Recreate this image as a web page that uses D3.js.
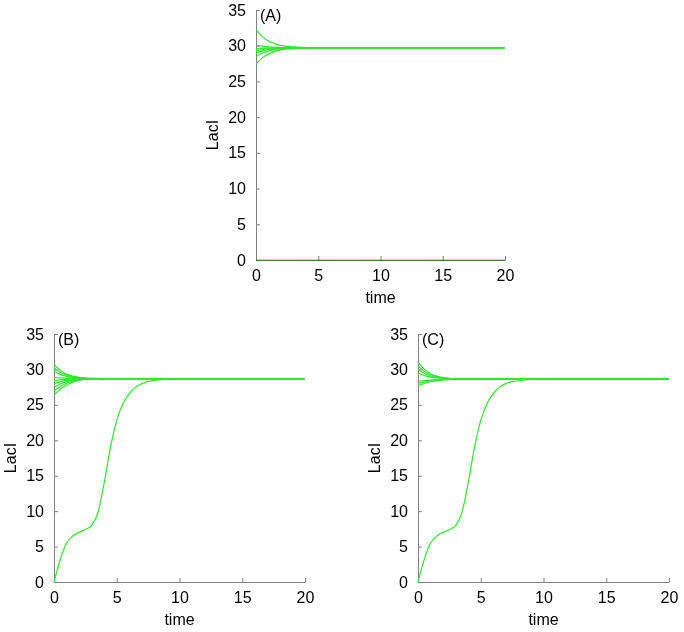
<!DOCTYPE html>
<html>
<head>
<meta charset="utf-8">
<script src="https://cdn.jsdelivr.net/npm/d3@7"></script>
<style>
  body { margin: 0; background: #fff; }
  svg text { font-family: "Liberation Sans", Arial, sans-serif; fill: #000; }
  .axis path, .axis line { stroke: #808080; }
</style>
</head>
<body>
<div id="chart"></div>
<script>

// axis ticks
var xTicks = [0, 5, 10, 15, 20];
var yTicks = [0, 5, 10, 15, 20, 25, 30, 35];

// panel (A): time points and trajectories
var timeA = [0, 0.5, 1, 1.5, 2, 3, 4, 5, 20];
var seriesA = [
    [32.3, 31.3, 30.65, 30.3, 30.05, 29.83, 29.75, 29.72, 29.7],
    [30.1, 29.95, 29.85, 29.78, 29.74, 29.71, 29.7, 29.7, 29.7],
    [29.6, 29.65, 29.67, 29.69, 29.7, 29.7, 29.7, 29.7, 29.7],
    [29.3, 29.45, 29.55, 29.62, 29.66, 29.69, 29.7, 29.7, 29.7],
    [29.0, 29.28, 29.45, 29.56, 29.62, 29.68, 29.7, 29.7, 29.7],
    [28.5, 28.95, 29.25, 29.44, 29.56, 29.66, 29.69, 29.7, 29.7],
    [27.4, 28.3, 28.85, 29.2, 29.42, 29.6, 29.67, 29.69, 29.7]
];
// trajectory that stays at the zero state
var zeroA = [0, 0, 0, 0, 0, 0, 0, 0, 0];

// panel (B)
var timeB = [0, 0.5, 1, 1.5, 2, 2.5, 3, 4, 5, 20];
var seriesB = [
    [30.7, 29.9, 29.35, 29.05, 28.88, 28.78, 28.74, 28.71, 28.7, 28.7],
    [30.2, 29.6, 29.2, 28.97, 28.84, 28.77, 28.73, 28.71, 28.7, 28.7],
    [29.7, 29.3, 29.02, 28.87, 28.79, 28.75, 28.72, 28.7, 28.7, 28.7],
    [28.9, 28.8, 28.75, 28.72, 28.71, 28.7, 28.7, 28.7, 28.7, 28.7],
    [28.4, 28.52, 28.6, 28.65, 28.68, 28.69, 28.7, 28.7, 28.7, 28.7],
    [28.0, 28.25, 28.45, 28.57, 28.64, 28.67, 28.69, 28.7, 28.7, 28.7],
    [27.5, 27.95, 28.28, 28.48, 28.59, 28.65, 28.68, 28.7, 28.7, 28.7],
    [27.0, 27.6, 28.05, 28.35, 28.52, 28.62, 28.66, 28.69, 28.7, 28.7],
    [26.4, 27.2, 27.8, 28.2, 28.45, 28.58, 28.65, 28.69, 28.7, 28.7]
];
var riseTime = [0, 0.5, 1, 1.5, 2, 2.5, 3, 3.5, 4, 4.5, 5, 5.5, 6, 6.5, 7, 8, 9, 10, 20];
var riseB = [0, 3.2, 5.5, 6.5, 7.0, 7.4, 8.0, 9.8, 14.0, 19.0, 22.8, 25.2, 26.6, 27.5, 28.0, 28.45, 28.62, 28.68, 28.7];

// panel (C)
var timeC = [0, 0.5, 1, 1.5, 2, 2.5, 3, 4, 5, 20];
var seriesC = [
    [31.0, 30.05, 29.4, 29.05, 28.85, 28.74, 28.68, 28.65, 28.64, 28.64],
    [30.5, 29.75, 29.25, 28.97, 28.81, 28.72, 28.67, 28.65, 28.64, 28.64],
    [30.0, 29.45, 29.08, 28.88, 28.76, 28.7, 28.66, 28.65, 28.64, 28.64],
    [29.5, 29.15, 28.92, 28.79, 28.71, 28.68, 28.66, 28.64, 28.64, 28.64],
    [28.3, 28.42, 28.5, 28.56, 28.6, 28.62, 28.63, 28.64, 28.64, 28.64],
    [28.0, 28.22, 28.38, 28.49, 28.56, 28.6, 28.62, 28.64, 28.64, 28.64],
    [27.7, 28.02, 28.26, 28.42, 28.52, 28.58, 28.61, 28.63, 28.64, 28.64]
];
var riseC = [0, 3.2, 5.5, 6.5, 7.0, 7.4, 8.0, 9.8, 14.0, 19.0, 22.8, 25.2, 26.6, 27.5, 28.0, 28.4, 28.58, 28.63, 28.64];

var W = 684, H = 632;

var svg = d3.select("#chart")
    .append("svg")
    .attr("width", W)
    .attr("height", H);

function drawPanel(p) {
    var x = d3.scaleLinear().domain([0, 20]).range([p.x0, p.x1]);
    var y = d3.scaleLinear().domain([0, 35]).range([p.y0, p.y1]);

    var g = svg.append("g");

    // x axis, ticks pointing inward
    g.append("g")
        .attr("class", "axis")
        .attr("transform", "translate(0," + p.y0 + ")")
        .call(d3.axisBottom(x).tickValues(xTicks).tickSizeInner(-4).tickSizeOuter(0).tickPadding(10))
        .call(function(a) {
            a.selectAll("text").style("font-size", "16px");
        });

    // y axis
    g.append("g")
        .attr("class", "axis")
        .attr("transform", "translate(" + p.x0 + ",0)")
        .call(d3.axisLeft(y).tickValues(yTicks).tickSizeInner(-4).tickSizeOuter(0).tickPadding(10))
        .call(function(a) {
            a.selectAll("text").style("font-size", "16px");
        });

    var line = d3.line()
        .x(function(d) { return x(d[0]); })
        .y(function(d) { return y(d[1]); })
        .curve(d3.curveMonotoneX);

    p.lines.forEach(function(s) {
        var pts = s.t.map(function(t, i) { return [t, s.v[i]]; });
        g.append("path")
            .datum(pts)
            .attr("fill", "none")
            .attr("stroke", "#2ee82e")
            .attr("stroke-width", 1.2)
            // the zero trajectory sits on the grey axis and shows darker
            .style("mix-blend-mode", s.blend ? "multiply" : null)
            .attr("d", line);
    });

    // axis titles
    g.append("text")
        .attr("x", (p.x0 + p.x1) / 2)
        .attr("y", p.y0 + 43)
        .attr("text-anchor", "middle")
        .style("font-size", "16px")
        .text("time");

    g.append("text")
        .attr("transform", "translate(" + (p.x0 - 38) + "," + ((p.y0 + p.y1) / 2) + ") rotate(-90)")
        .attr("text-anchor", "middle")
        .style("font-size", "16px")
        .text("LacI");

    // panel letter
    g.append("text")
        .attr("x", p.x0 + 4)
        .attr("y", p.y1 + 11)
        .style("font-size", "16px")
        .text(p.label);
}

function build(times, arrs) {
    return arrs.map(function(v) { return {t: times, v: v}; });
}

drawPanel({
    x0: 256, x1: 505, y0: 260, y1: 10, label: "(A)",
    lines: build(timeA, seriesA).concat([{t: timeA, v: zeroA, blend: true}])
});

drawPanel({
    x0: 54, x1: 305, y0: 582, y1: 334, label: "(B)",
    lines: build(timeB, seriesB).concat([{t: riseTime, v: riseB}])
});

drawPanel({
    x0: 418, x1: 669, y0: 582, y1: 334, label: "(C)",
    lines: build(timeC, seriesC).concat([{t: riseTime, v: riseC}])
});

</script>
</body>
</html>
